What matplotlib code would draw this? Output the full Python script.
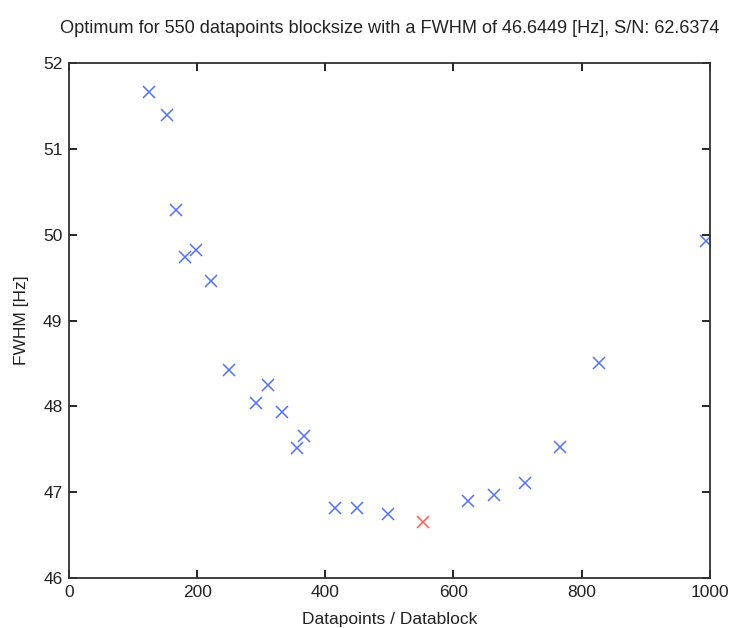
import matplotlib.pyplot as plt

plt.rcParams['font.family'] = ['Liberation Sans', 'DejaVu Sans']

# datapoints per block and measured FWHM
blocksize = [124, 152, 166, 180, 198, 222, 249, 292, 311, 332, 355, 367,
             415, 450, 497, 622, 663, 711, 766, 828, 994]
fwhm = [51.67, 51.40, 50.29, 49.74, 49.82, 49.46, 48.42, 48.04, 48.25, 47.93,
        47.51, 47.65, 46.81, 46.81, 46.74, 46.90, 46.97, 47.10, 47.53, 48.51, 49.93]

best_size = [552]
best_fwhm = [46.6449]

fig = plt.figure(figsize=(7.3, 6.28), dpi=100)
ax = fig.add_axes([0.095, 0.08, 0.877, 0.819])

ax.plot(blocksize, fwhm, 'x', color='#5070ff', ms=8, mew=1.1, linestyle='none')
ax.plot(best_size, best_fwhm, 'x', color='#ff5a50', ms=8, mew=1.1, linestyle='none')

ax.set_xlim(0, 1000)
ax.set_ylim(46, 52)
ax.set_xticks([0, 200, 400, 600, 800, 1000])
ax.set_yticks([46, 47, 48, 49, 50, 51, 52])
ax.tick_params(direction='in', top=True, right=True, length=6, width=1.2,
               labelsize=12.5, pad=5, labelcolor='#222222')
for s in ax.spines.values():
    s.set_linewidth(1.3)
    s.set_color('#333333')

ax.set_xlabel('Datapoints / Datablock', fontsize=12.5, labelpad=9, color='#222222')
ax.set_ylabel('FWHM [Hz]', fontsize=12.5, labelpad=10, color='#222222')
ax.set_title('Optimum for 550 datapoints blocksize with a FWHM of 46.6449 [Hz], S/N: 62.6374',
             fontsize=13.1, pad=22, color='#222222')

fig.savefig('out.png', dpi=100)
